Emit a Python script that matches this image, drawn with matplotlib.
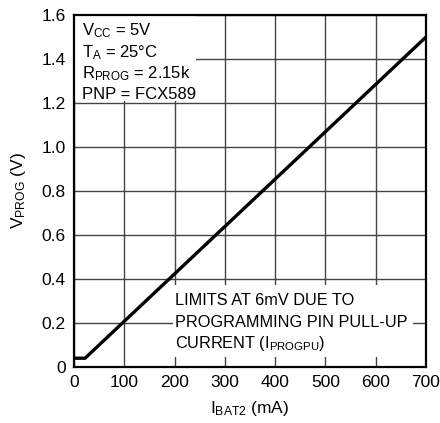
import matplotlib
matplotlib.use("Agg")
import matplotlib.pyplot as plt
from matplotlib import font_manager as fm

names = {f.name for f in fm.fontManager.ttflist}
fam = 'Liberation Sans Narrow' if 'Liberation Sans Narrow' in names else 'Liberation Sans'
plt.rcParams['font.family'] = [fam, 'DejaVu Sans']
plt.rcParams['mathtext.fontset'] = 'custom'
plt.rcParams['mathtext.rm'] = fam
plt.rcParams['mathtext.it'] = fam

# data
i_bat = [0, 22, 700]
v_prog = [0.04, 0.04, 1.5]
x_ticks = [0, 100, 200, 300, 400, 500, 600, 700]
y_ticks = [0, 0.2, 0.4, 0.6, 0.8, 1.0, 1.2, 1.4, 1.6]
y_labels = ['0', '0.2', '0.4', '0.6', '0.8', '1.0', '1.2', '1.4', '1.6']

fig = plt.figure(figsize=(4.4, 4.23), dpi=100)
ax = fig.add_axes([74/440, 1-367/423, (426-74)/440, (367-15)/423])
ax.plot(i_bat, v_prog, color='black', lw=2.4, zorder=5, solid_capstyle='butt')
ax.set_xlim(0, 700)
ax.set_ylim(0, 1.6)
ax.set_xticks(x_ticks)
ax.set_xticklabels([str(t) for t in x_ticks])
ax.set_yticks(y_ticks)
ax.set_yticklabels(y_labels)
ax.tick_params(length=0, labelsize=12.5, pad=6)
ax.grid(True, color='#444444', lw=1.0)
ax.set_axisbelow(True)
for s in ax.spines.values():
    s.set_linewidth(1.6)
ax.set_xlabel(r'I$_{\mathrm{BAT2}}$ (mA)', fontsize=12.5, labelpad=6)
ax.set_ylabel(r'V$_{\mathrm{PROG}}$ (V)', fontsize=12.5, labelpad=10)

# white boxes masking grid
ax.add_patch(plt.Rectangle((0.005, 1.21), 243, 0.385, facecolor='white', edgecolor='none', zorder=2))
ax.add_patch(plt.Rectangle((196, 0.045), 478, 0.328, facecolor='white', edgecolor='none', zorder=2))

fs = 12
top_lines = [r'V$_{\mathrm{CC}}$ = 5V', r'T$_{\mathrm{A}}$ = 25°C', r'R$_{\mathrm{PROG}}$ = 2.15k', 'PNP = FCX589']
top_y = [1.509, 1.409, 1.314, 1.218]
for t, y in zip(top_lines, top_y):
    ax.text(16, y, t, fontsize=fs, va='baseline', ha='left', zorder=3)
low_lines = ['LIMITS AT 6mV DUE TO', 'PROGRAMMING PIN PULL-UP', r'CURRENT (I$_{\mathrm{PROGPU}}$)']
low_y = [0.282, 0.182, 0.086]
for t, y in zip(low_lines, low_y):
    ax.text(201, y, t, fontsize=11.7, va='baseline', ha='left', zorder=3)

fig.savefig('out.png', dpi=100)
